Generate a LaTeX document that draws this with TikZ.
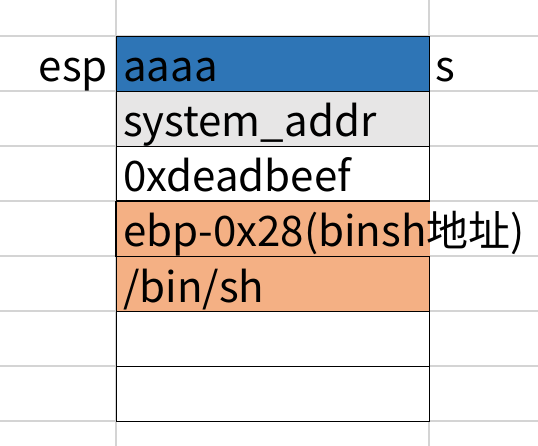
\documentclass[tikz,border=0pt]{standalone}
\usepackage{fontspec}
\setmainfont{Noto Sans CJK SC}
\definecolor{gridgray}{HTML}{D4D4D4}
\definecolor{cellblue}{HTML}{2E75B6}
\definecolor{cellgray}{HTML}{E7E6E6}
\definecolor{cellorange}{HTML}{F4B084}
\tikzset{
  cell/.style={draw=black, line width=1.2pt, minimum width=313pt, minimum height=55pt, inner sep=0pt, anchor=north west},
  txt/.style={inner sep=0pt, anchor=base west, font=\fontsize{42}{46}\selectfont},
  gridline/.style={draw=gridgray, line width=1.2pt}
}
\begin{document}
\begin{tikzpicture}[x=1pt,y=-1pt]
\useasboundingbox (0,0) rectangle (538,446);
\fill[white] (0,0) rectangle (538,446);
% grid lines
\foreach \yy in {36,91,146,201,256,311,366,421} {
  \draw[gridline] (0,\yy) -- (538,\yy);
}
\draw[gridline] (116,0) -- (116,446);
\draw[gridline] (429,0) -- (429,201) (429,256) -- (429,446);
% cells
\node[cell, fill=cellblue] (c1) at (116,36) {};
\node[cell, fill=cellgray] (c2) at (116,91) {};
\node[cell, fill=white] (c3) at (116,146) {};
\node[cell, draw=none, fill=cellorange] (c4) at (116,201) {};
\node[cell, fill=cellorange] (c5) at (116,256) {};
\node[cell, fill=white] (c6) at (116,311) {};
\node[cell, fill=white] (c7) at (116,366) {};
\draw[black, line width=1.2pt] (c4.north west) -- (c4.south west);
\draw[black, line width=1.2pt] (c4.north west) -- (c4.north east);
% texts
\node[txt] (t1) at (123,82) {aaaa};
\node[txt] (t2) at (123,137) {system\_addr};
\node[txt] (t3) at (123,192) {0xdeadbeef};
\node[txt] (t4) at (123,247) {ebp-0x28(binsh地址)};
\node[txt] (t5) at (123,302) {/bin/sh};
\node[txt, anchor=base east] (esp) at (108,82) {esp};
\node[txt] (s) at (435,82) {s};
\end{tikzpicture}
\end{document}
